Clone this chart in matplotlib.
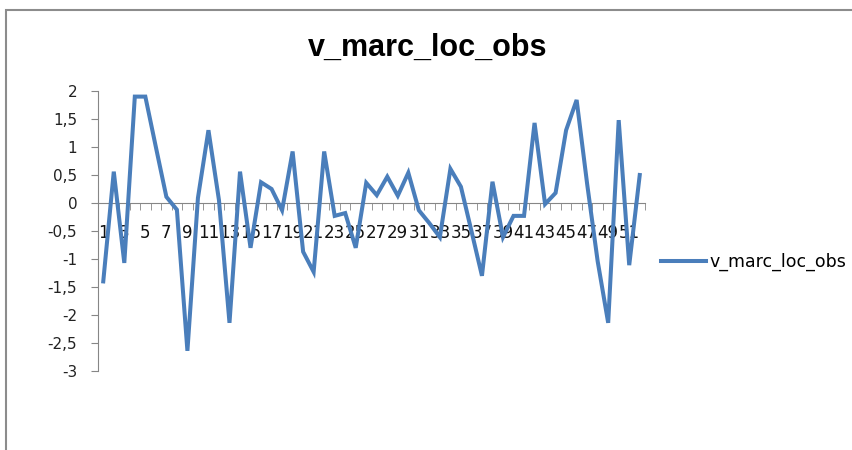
import matplotlib
matplotlib.use("Agg")
import matplotlib.pyplot as plt
import numpy as np
from matplotlib.ticker import FuncFormatter, FixedLocator
from matplotlib.patches import Rectangle

series_name = "v_marc_loc_obs"
categories = list(range(1, 53))
values = [-1.40, 0.56, -1.07, 1.90, 1.90, 1.00, 0.11, -0.12, -2.64, 0.09,
          1.30, 0.05, -2.14, 0.56, -0.80, 0.37, 0.25, -0.13, 0.92, -0.87,
          -1.23, 0.92, -0.23, -0.18, -0.80, 0.36, 0.14, 0.47, 0.13, 0.54,
          -0.13, -0.36, -0.61, 0.61, 0.29, -0.50, -1.30, 0.38, -0.61, -0.23,
          -0.23, 1.43, -0.02, 0.18, 1.30, 1.84, 0.34, -1.04, -2.14, 1.48,
          -1.11, 0.50]
y_ticks = [2, 1.5, 1, 0.5, 0, -0.5, -1, -1.5, -2, -2.5, -3]

line_color = '#4A7EBB'
axis_color = '#868686'

fig = plt.figure(figsize=(8.52, 4.5), dpi=100)

# outer chart border (cut off at right and bottom like the screenshot)
fig.patches.append(Rectangle((6/852, -0.05), 1.2, 1 - 10/450 + 0.05,
                             transform=fig.transFigure, fill=False,
                             edgecolor='#8c8c8c', linewidth=1.5))

ax = fig.add_axes([98/852, 79/450, 547/852, 280/450])
x = np.array(categories)
ax.plot(x, values, color=line_color, linewidth=2.9, label=series_name,
        solid_joinstyle='miter', zorder=3)
ax.set_axisbelow(True)

ax.set_xlim(0.5, len(categories) + 0.5)
ax.set_ylim(-3, 2)

for s in ['top', 'right']:
    ax.spines[s].set_visible(False)
ax.spines['bottom'].set_position(('data', 0))
ax.spines['bottom'].set_color(axis_color)
ax.spines['left'].set_color(axis_color)
ax.spines['bottom'].set_zorder(1)

def comma(v, pos):
    s = ('%g' % v).replace('.', ',')
    return s

ax.yaxis.set_major_locator(FixedLocator(y_ticks))
ax.yaxis.set_major_formatter(FuncFormatter(comma))
ax.tick_params(axis='y', direction='out', length=5, color=axis_color,
               pad=10, labelsize=11, labelcolor='#222222')

ax.set_xticks(x[::2])
ax.set_xticklabels([str(c) for c in categories[::2]])
ax.set_xticks(np.arange(0.5, len(categories) + 1, 1), minor=True)
ax.tick_params(axis='x', which='major', length=0, pad=15, labelsize=12,
               labelcolor='#111111')
ax.tick_params(axis='x', which='minor', direction='out', length=5,
               color=axis_color)

fig.text(428/852, 1 - 56/450, series_name, ha='center', va='baseline',
         fontsize=22, fontweight='bold', family='Liberation Sans')

ax.legend(loc='center left', bbox_to_anchor=(661/852, 1 - 262/450),
          bbox_transform=fig.transFigure, frameon=False, borderpad=0,
          borderaxespad=0, handlelength=2.6, handletextpad=0.2,
          fontsize=12.5)

fig.savefig('out.png', dpi=100)
